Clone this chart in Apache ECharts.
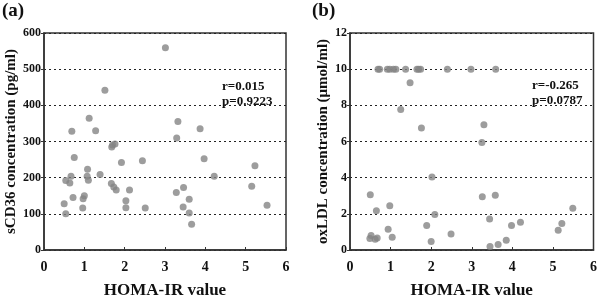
<!DOCTYPE html>
<html>
<head>
<meta charset="utf-8">
<script src="https://cdn.jsdelivr.net/npm/echarts@6/dist/echarts.min.js"></script>
<style>
  html, body { margin: 0; padding: 0; background: #fff; }
  #chart { width: 600px; height: 304px; }
</style>
</head>
<body>
<div id="chart"></div>
<script>
const chart = echarts.init(document.getElementById("chart"));

const FONT = "Liberation Serif";
const DOT = "#858585";

// ---- panel (a): HOMA-IR vs sCD36 (pg/ml)
const homaA = [3.01, 1.51, 1.12, 0.69, 1.28, 3.32, 3.29, 3.87, 1.70, 1.76,
  1.68, 0.75, 1.92, 2.44, 3.97, 5.23, 1.08, 0.67, 1.07, 1.39,
  4.22, 0.54, 0.64, 1.10, 1.67, 1.73, 1.79, 2.12, 3.46, 3.28,
  5.15, 0.72, 1.00, 0.97, 2.03, 3.60, 0.50, 5.53, 0.96, 2.03,
  2.51, 3.45, 0.54, 3.60, 3.66];
const scd36 = [559, 442, 364, 328, 330, 355, 310, 335, 290, 293,
  285, 256, 242, 247, 252, 233, 223, 204, 204, 209,
  204, 192, 185, 193, 184, 174, 166, 166, 173, 159,
  176, 145, 150, 142, 136, 140, 128, 124, 116, 117,
  116, 119, 100, 102, 71];

// ---- panel (b): HOMA-IR vs oxLDL (umol/ml)
const homaB = [0.69, 0.73, 0.92, 0.98, 1.07, 1.13, 1.37, 1.65, 1.69, 1.74,
  2.40, 2.98, 3.59, 1.48, 1.25, 1.76, 3.30, 3.25, 2.02, 0.50,
  3.26, 3.58, 0.98, 5.49, 0.65, 2.09, 3.44, 4.20, 5.22, 3.98,
  1.89, 0.94, 5.13, 2.49, 0.52, 0.49, 0.67, 0.62, 1.04, 2.00,
  3.85, 3.65, 3.45];
const oxldl = [10, 10, 10, 10, 10, 10, 10, 10, 10, 10,
  10, 10, 10, 9.25, 7.77, 6.75, 6.93, 5.95, 4.04, 3.06,
  2.94, 3.03, 2.45, 2.31, 2.17, 1.96, 1.71, 1.54, 1.47, 1.36,
  1.36, 1.15, 1.09, 0.89, 0.80, 0.63, 0.67, 0.59, 0.70, 0.47,
  0.54, 0.30, 0.19];

const xTicks = [0, 1, 2, 3, 4, 5, 6];
const statsA = ["r=0.015", "p=0.9223"];
const statsB = ["r=-0.265", "p=0.0787"];

const zip = (xs, ys) => xs.map((x, i) => [x, ys[i]]);

function xAxis(gridIndex) {
  return {
    gridIndex,
    type: "value",
    min: xTicks[0],
    max: xTicks[xTicks.length - 1],
    interval: 1,
    name: "HOMA-IR value",
    nameLocation: "middle",
    nameGap: 32,
    nameTextStyle: { fontFamily: FONT, fontWeight: "bold", fontSize: 17, color: "#111" },
    axisLine: { lineStyle: { color: "#333", width: 1.5 } },
    axisTick: { show: true, inside: true, length: 3, lineStyle: { color: "#333" } },
    axisLabel: { fontFamily: FONT, fontWeight: "bold", fontSize: 14, color: "#111", margin: 10 },
    splitLine: { show: false }
  };
}

function yAxis(gridIndex, max, interval, name, gap) {
  return {
    gridIndex,
    type: "value",
    min: 0,
    max,
    interval,
    name,
    nameLocation: "middle",
    nameRotate: 90,
    nameGap: gap,
    nameTextStyle: { fontFamily: FONT, fontWeight: "bold", fontSize: 15, color: "#111" },
    axisLine: { show: true, lineStyle: { color: "#333", width: 1.5 } },
    axisTick: { show: true, length: 3, lineStyle: { color: "#333" } },
    axisLabel: { fontFamily: FONT, fontWeight: "bold", fontSize: 12, color: "#111", margin: 3 },
    splitLine: { show: true, lineStyle: { color: "#222", type: [2, 3], width: 1 } }
  };
}

function statText(left, top, lines) {
  return {
    type: "text",
    left, top,
    style: {
      text: lines.join("\n"),
      font: `bold 13px "${FONT}"`,
      fill: "#111",
      lineHeight: 15
    }
  };
}

const panelLabel = { fontFamily: FONT, fontWeight: "bold", fontSize: 19, color: "#111" };

chart.setOption({
  animation: false,
  title: [
    { text: "(a)", left: 2, top: 2, padding: 0, textStyle: panelLabel },
    { text: "(b)", left: 312, top: 2, padding: 0, textStyle: panelLabel }
  ],
  grid: [
    { left: 44, top: 33, width: 242, height: 228, show: true, borderColor: "#333", borderWidth: 1.5 },
    { left: 350, top: 33, width: 245, height: 229, show: true, borderColor: "#333", borderWidth: 1.5 }
  ],
  xAxis: [xAxis(0), xAxis(1)],
  yAxis: [
    yAxis(0, 600, 100, "sCD36 concentration (pg/ml)", 24),
    yAxis(1, 12, 2, "oxLDL concentration (\u03bcmol/ml)", 19)
  ],
  graphic: [
    statText(222, 79, statsA),
    statText(532, 78, statsB)
  ],
  series: [
    {
      type: "scatter",
      xAxisIndex: 0,
      yAxisIndex: 0,
      symbolSize: 7,
      itemStyle: { color: DOT },
      data: zip(homaA, scd36)
    },
    {
      type: "scatter",
      xAxisIndex: 1,
      yAxisIndex: 1,
      symbolSize: 7,
      itemStyle: { color: DOT },
      data: zip(homaB, oxldl)
    }
  ]
});
</script>
</body>
</html>
